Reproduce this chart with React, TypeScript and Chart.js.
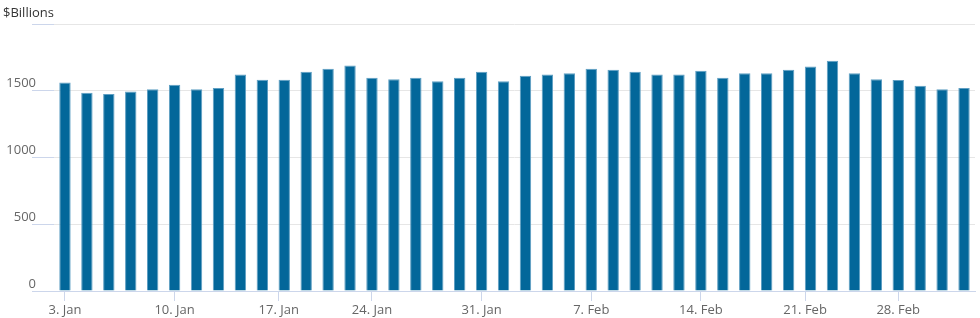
import { useEffect, useRef } from 'react';
import { Chart, registerables } from 'chart.js';

Chart.register(...registerables);

const unitLabel = '$Billions';

const dates = [
  '2022-01-03', '2022-01-04', '2022-01-05', '2022-01-06', '2022-01-07',
  '2022-01-10', '2022-01-11', '2022-01-12', '2022-01-13', '2022-01-14',
  '2022-01-18', '2022-01-19', '2022-01-20', '2022-01-21',
  '2022-01-24', '2022-01-25', '2022-01-26', '2022-01-27', '2022-01-28',
  '2022-01-31', '2022-02-01', '2022-02-02', '2022-02-03', '2022-02-04',
  '2022-02-07', '2022-02-08', '2022-02-09', '2022-02-10', '2022-02-11',
  '2022-02-14', '2022-02-15', '2022-02-16', '2022-02-17', '2022-02-18',
  '2022-02-22', '2022-02-23', '2022-02-24', '2022-02-25',
  '2022-02-28', '2022-03-01', '2022-03-02', '2022-03-03',
];

const values = [
  1562, 1485, 1475, 1495, 1512,
  1545, 1512, 1520, 1622, 1582,
  1582, 1642, 1665, 1690,
  1597, 1587, 1597, 1572, 1597,
  1642, 1572, 1612, 1622, 1632,
  1665, 1657, 1642, 1622, 1622,
  1650, 1597, 1632, 1632, 1657,
  1682, 1725, 1632, 1587,
  1580, 1537, 1512, 1520,
];

const tickDates = [
  '2022-01-03', '2022-01-10', '2022-01-17', '2022-01-24', '2022-01-31',
  '2022-02-07', '2022-02-14', '2022-02-21', '2022-02-28',
];
const tickLabels = [
  '3. Jan', '10. Jan', '17. Jan', '24. Jan', '31. Jan',
  '7. Feb', '14. Feb', '21. Feb', '28. Feb',
];

const yTicks = [0, 500, 1000, 1500, 2000];

const FONT = '"Open Sans", "DejaVu Sans", sans-serif';

export default function App() {
  const ref = useRef<HTMLCanvasElement>(null);

  useEffect(() => {
    document.body.style.margin = '0';
    const toT = (s: string) => Date.parse(s + 'T00:00:00Z');
    const times = dates.map(toT);
    const ordinal = (s: string) => {
      const t = toT(s);
      const idx = times.indexOf(t);
      if (idx >= 0) return idx;
      for (let i = 0; i < times.length - 1; i++) {
        if (times[i] < t && t < times[i + 1]) {
          return i + (t - times[i]) / (times[i + 1] - times[i]);
        }
      }
      return 0;
    };
    const tickPos = tickDates.map(ordinal);

    const chart = new Chart(ref.current as HTMLCanvasElement, {
      type: 'bar',
      data: {
        datasets: [
          {
            data: values.map((v, i) => ({ x: i, y: v })),
            backgroundColor: '#03679a',
            borderColor: '#5f9fc3',
            borderWidth: 1,
            barPercentage: 0.52,
            categoryPercentage: 1,
          } as any,
        ],
      },
      options: {
        animation: false,
        responsive: true,
        maintainAspectRatio: false,
        layout: { padding: { top: 24, right: 5, left: 0, bottom: 0 } },
        plugins: {
          legend: { display: false },
          tooltip: { enabled: false },
        },
        scales: {
          x: {
            type: 'linear',
            min: -0.5,
            max: dates.length - 0.5,
            offset: false,
            grid: {
              offset: false,
              drawOnChartArea: false,
              drawTicks: true,
              tickLength: 10,
              tickColor: '#ccd6eb',
            },
            border: { display: true, color: '#ccd6eb' },
            afterBuildTicks: (s: any) => {
              s.ticks = tickPos.map((v) => ({ value: v }));
            },
            afterFit: (s: any) => {
              s.height = 27;
            },
            ticks: {
              autoSkip: false,
              maxRotation: 0,
              color: '#666666',
              font: { family: FONT, size: 13 },
              padding: 1,
              callback: (_v: any, i: number) => tickLabels[i],
            },
          },
          y: {
            min: 0,
            max: 2000,
            afterBuildTicks: (s: any) => {
              s.ticks = yTicks.map((v) => ({ value: v }));
            },
            afterFit: (s: any) => {
              s.width = 54;
            },
            grid: { color: '#e6e6e6', tickLength: 22, tickColor: '#ccd6eb' },
            border: { display: false },
            ticks: {
              padding: -4,
              labelOffset: -7,
              color: '#666666',
              font: { family: FONT, size: 13 },
              callback: (v: any) => (v === 2000 ? '' : String(v)),
            },
          },
        },
      },
      plugins: [
        {
          id: 'unitTitle',
          afterDraw(c: any) {
            const ctx = c.ctx;
            ctx.save();
            ctx.font = `13px ${FONT}`;
            ctx.fillStyle = '#333333';
            ctx.textBaseline = 'alphabetic';
            ctx.textAlign = 'left';
            ctx.fillText(unitLabel, 3, 17);
            ctx.restore();
          },
        },
      ],
    });
    return () => chart.destroy();
  }, []);

  return (
    <div style={{ position: 'absolute', left: 0, top: 0, width: 980, height: 318 }}>
      <canvas ref={ref} />
    </div>
  );
}
